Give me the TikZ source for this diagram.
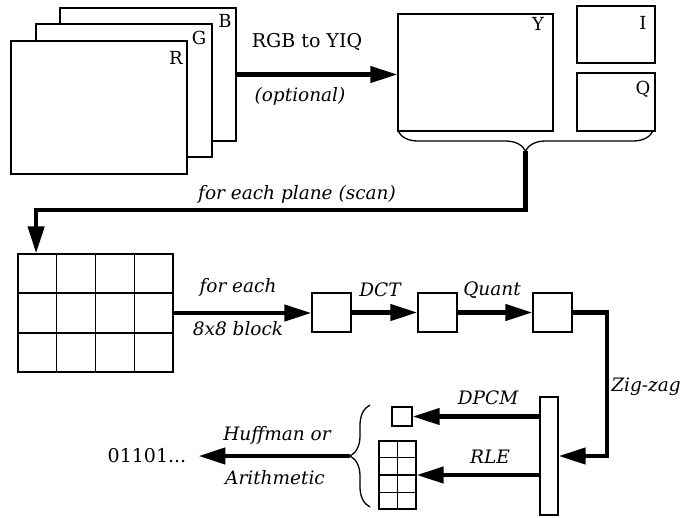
\documentclass[tikz,border=0pt]{standalone}
\usepackage{fontspec}
\setmainfont{DejaVu Serif}
\usetikzlibrary{arrows.meta,decorations.pathreplacing,calc}
\begin{document}
\begin{tikzpicture}[x=1pt,y=-1pt,
  box/.style={draw,fill=white,line width=1.3pt,inner sep=0pt},
  grid line/.style={line width=1.3pt},
  flow/.style={line width=4.4pt,-{Triangle[length=27pt,width=16pt]}},
  lab/.style={inner sep=0pt,font=\fontsize{18.5}{22}\selectfont\itshape},
  uplab/.style={inner sep=0pt,font=\fontsize{19}{22}\selectfont},
  letter/.style={inner sep=0pt,font=\fontsize{18}{21}\selectfont},
  brace line/.style={line width=1.3pt,decorate,decoration={brace,amplitude=20pt}}
]
\useasboundingbox[fill=white] (0,0) rectangle (684,517);

% RGB planes
\node[box,minimum width=176pt,minimum height=133pt] (bbox) at (148,74.5) {};
\node[box,minimum width=176pt,minimum height=133pt] (gbox) at (124,90.5) {};
\node[box,minimum width=176pt,minimum height=133pt] (rbox) at (99,107.5) {};
\node[letter] (blab) at (225,21) {B};
\node[letter] (glab) at (199,38) {G};
\node[letter] (rlab) at (176,58) {R};

% YIQ planes
\node[box,minimum width=155pt,minimum height=117pt] (ybox) at (475.5,72.5) {};
\node[box,minimum width=78pt,minimum height=57pt] (ibox) at (616,34.5) {};
\node[box,minimum width=78pt,minimum height=58pt] (qbox) at (616,102) {};
\node[letter] (ylab) at (538,24) {Y};
\node[letter] (ilab) at (643,23) {I};
\node[letter] (qlab) at (643,89) {Q};

\draw[flow] (bbox.east) -- (bbox.east -| ybox.west);
\node[uplab] (rgbyiq) at (307,42) {RGB to YIQ};
\node[lab] (opt) at (300,96) {(optional)};

% brace under YIQ
\draw[brace line] (653,131) -- (398,131);
\coordinate (ytip) at (525.5,151);
\coordinate (turn) at (525.5,210);

% plane grid
\node[box,minimum width=155pt,minimum height=118pt] (plane) at (95.5,313) {};
\foreach \i in {1,2,3}
  \draw[grid line] ($(plane.north west)!\i/4!(plane.north east)$) -- ($(plane.south west)!\i/4!(plane.south east)$);
\foreach \j in {1,2}
  \draw[grid line] ($(plane.north west)!\j/3!(plane.south west)$) -- ($(plane.north east)!\j/3!(plane.south east)$);
\coordinate (ptop) at ($(plane.north west)!0.12!(plane.north east)$);

\draw[flow] (ytip) -- (turn) -| (ptop);
\node[lab] (scan) at (297,194) {for each plane (scan)};

% blocks
\node[box,minimum width=39pt,minimum height=39pt] (b1) at (331.5,312.5) {};
\node[box,minimum width=39pt,minimum height=39pt] (b2) at (437.5,312.5) {};
\node[box,minimum width=39pt,minimum height=39pt] (b3) at (552.5,312.5) {};

\draw[flow] (plane.east) -- (plane.east -| b1.west);
\node[lab] (fe) at (238,287) {for each};
\node[lab] (blk) at (238,329) {8x8 block};
\draw[flow] (b1.east) -- (b2.west);
\node[lab] (dct) at (380,290) {DCT};
\draw[flow] (b2.east) -- (b3.west);
\node[lab] (quant) at (492,290) {Quant};

% zig-zag bar
\node[box,minimum width=18pt,minimum height=118pt] (bar) at (549,456) {};
\coordinate (zz) at (607,456);
\draw[flow] (b3.east) -| (zz) -- (bar.east);
\node[lab] (zig) at (646,387) {Zig-zag};

% DC and AC
\node[box,minimum width=20pt,minimum height=19pt] (sq) at (402,416.5) {};
\node[box,minimum width=37pt,minimum height=68pt] (rle) at (397.5,475) {};
\draw[grid line] (rle.north) -- (rle.south);
\foreach \j in {1,2,3}
  \draw[grid line] ($(rle.north west)!\j/4!(rle.south west)$) -- ($(rle.north east)!\j/4!(rle.south east)$);

\draw[flow] (sq.east -| bar.west) -- (sq.east);
\node[lab] (dpcm) at (488,398) {DPCM};
\draw[flow] (rle.east -| bar.west) -- (rle.east);
\node[lab] (rlel) at (490,457) {RLE};

% left brace and output
\draw[brace line] (370,507) -- (370,405);
\coordinate (htip) at (350,456);
\node[uplab] (out) at (147,456) {01101...};
\draw[flow,shorten >=12pt] (htip) -- (htip -| out.east);
\node[lab] (huff) at (277,435) {Huffman or};
\node[lab] (arith) at (275,478) {Arithmetic};
\end{tikzpicture}
\end{document}
